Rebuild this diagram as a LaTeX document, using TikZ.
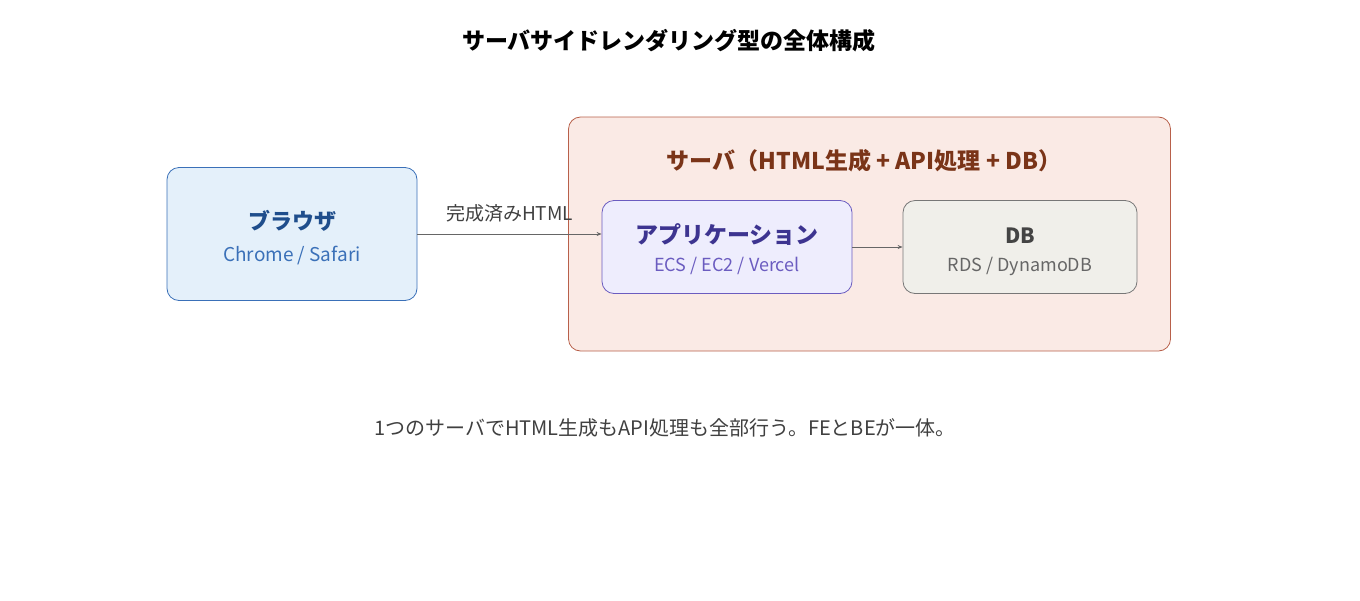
\documentclass[tikz,border=0pt]{standalone}
\usepackage{fontspec}
\setmainfont{Noto Sans CJK JP}
\usetikzlibrary{arrows.meta}
\definecolor{bfill}{HTML}{E4F0FA}\definecolor{bdraw}{HTML}{3A70B8}\definecolor{btext}{HTML}{1F4E8C}
\definecolor{sfill}{HTML}{FAEAE5}\definecolor{sdraw}{HTML}{B8604A}\definecolor{stext}{HTML}{7A3418}
\definecolor{afill}{HTML}{EEEDFD}\definecolor{adraw}{HTML}{6B5CC0}\definecolor{atext}{HTML}{3D3490}
\definecolor{dfill}{HTML}{F0EFEA}\definecolor{ddraw}{HTML}{777777}\definecolor{dtext}{HTML}{444444}
\tikzset{box/.style={rounded corners=12pt,line width=0.8pt,align=center,inner sep=0pt},
conn/.style={draw=black!60,line width=0.7pt,-{Stealth[length=5pt,width=4pt]}}}
\begin{document}
\begin{tikzpicture}[x=1pt,y=-1pt]
\useasboundingbox (0,0) rectangle (1360,600);
\node (title) at (669,41) {\fontsize{23}{26}\selectfont\bfseries サーバサイドレンダリング型の全体構成};
\node[box,draw=sdraw,fill=sfill,minimum width=602pt,minimum height=234pt] (srv) at (869.5,234) {};
\node[text=stext] (srvl) at (864,161) {\fontsize{23}{26}\selectfont\bfseries サーバ（HTML生成 + API処理 + DB）};
\node[box,draw=bdraw,fill=bfill,minimum width=250pt,minimum height=133pt] (br) at (292,234) {};
\node[text=btext] at (292,221) {\fontsize{22}{26}\selectfont\bfseries ブラウザ};
\node[text=bdraw] at (292,256) {\fontsize{19}{22}\selectfont Chrome / Safari};
\node[box,draw=adraw,fill=afill,minimum width=250pt,minimum height=93pt] (app) at (727,247) {};
\node[text=atext] at (727,235) {\fontsize{23}{26}\selectfont\bfseries アプリケーション};
\node[text=adraw] at (727,266) {\fontsize{18}{20}\selectfont ECS / EC2 / Vercel};
\node[box,draw=ddraw,fill=dfill,minimum width=234pt,minimum height=93pt] (db) at (1020,247) {};
\node[text=dtext] at (1020,236) {\fontsize{21}{24}\selectfont\bfseries DB};
\node[text=black!60] at (1020,266) {\fontsize{18}{20}\selectfont RDS / DynamoDB};
\draw[conn] (br.east |- 0,234) -- node[above=8pt,text=black!75]{\fontsize{19}{22}\selectfont 完成済みHTML} (app.west |- 0,234);
\draw[conn] (app.east) -- (db.west);
\node[text=black!75] (note) at (665,428) {\fontsize{20}{24}\selectfont 1つのサーバでHTML生成もAPI処理も全部行う。FEとBEが一体。};
\end{tikzpicture}
\end{document}
